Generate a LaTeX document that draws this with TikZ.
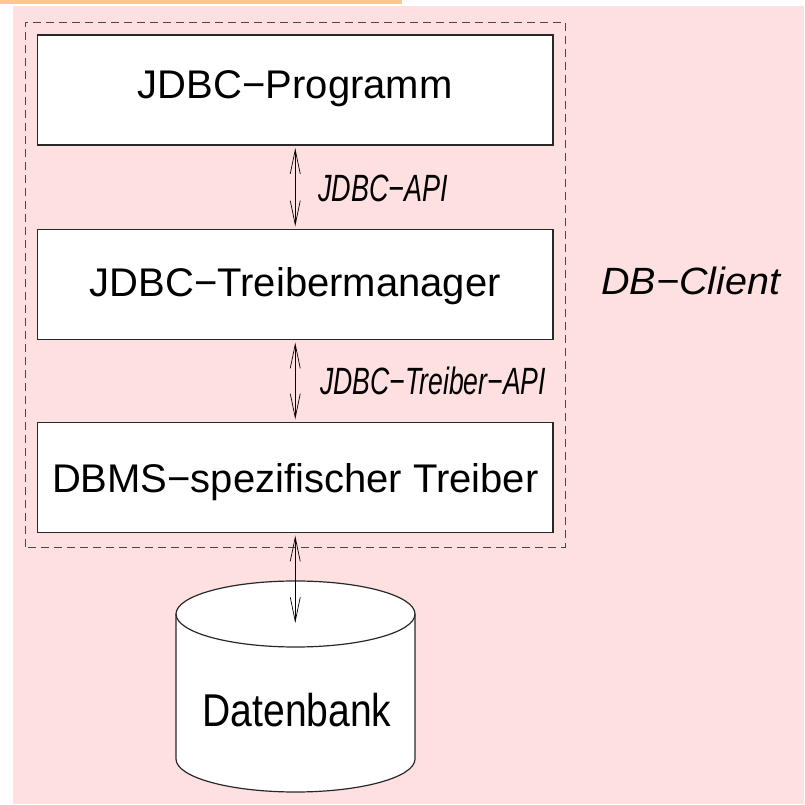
\documentclass[tikz,border=0pt]{standalone}
\usepackage{fontspec}
\setmainfont{Liberation Sans}
\usepackage{graphicx}
\usetikzlibrary{arrows.meta}
\definecolor{bgpink}{RGB}{255,224,224}
\definecolor{barorange}{RGB}{255,200,144}
\definecolor{linegray}{RGB}{40,40,40}
\tikzset{
  layerbox/.style={draw=linegray, line width=1.2pt, fill=white, minimum width=515.5pt,
    minimum height=110pt, inner sep=0pt, font=\fontsize{40}{48}\selectfont},
  apilabel/.style={anchor=base west, inner sep=0pt, font=\fontsize{38}{46}\selectfont\itshape},
  biarrow/.style={line width=0.9pt,
    {Straight Barb[length=24pt,width=10pt,line width=0.7pt]}-{Straight Barb[length=24pt,width=10pt,line width=0.7pt]},
    shorten <=2.5pt, shorten >=2.5pt},
  groupbox/.style={draw=linegray!85, line width=0.8pt, dash pattern=on 8pt off 5pt},
  cylline/.style={draw=linegray, line width=1.2pt},
}
\begin{document}
\begin{tikzpicture}[x=1pt,y=1pt]
\useasboundingbox (0,0) rectangle (804,805);
\fill[white] (0,0) rectangle (804,805);
\fill[barorange] (0,801) rectangle (402,805);
\fill[bgpink] (13,1) rectangle (804,799);
\draw[groupbox] (25,258) rectangle (565,783);
\node[layerbox, text height=30pt, text depth=12pt] (n1) at (295.25,715) {JDBC−Programm};
\node[layerbox, text height=30pt, text depth=6pt] (n2) at (295.25,520.5) {JDBC−Treibermanager};
\node[layerbox, text height=30pt, text depth=0pt] (n3) at (295.25,327.5) {DBMS−spezifischer Treiber};
\draw[biarrow] (n1.south) -- (n2.north);
\draw[biarrow] (n2.south) -- (n3.north);
\node[apilabel] (l1) at (318,603) {\scalebox{0.71}[1]{JDBC−API}};
\node[apilabel] (l2) at (320,410) {\scalebox{0.70}[1]{JDBC−Treiber−API}};
\node[apilabel] (client) at (601,510.7) {\scalebox{1.04}[1]{DB−Client}};
% cylinder
\path[fill=white, cylline] (176,191) -- (176,46)
  arc[start angle=180, end angle=360, x radius=119.5pt, y radius=33pt]
  -- (415,191)
  arc[start angle=0, end angle=180, x radius=119.5pt, y radius=33pt] -- cycle;
\draw[cylline] (176,191) arc[start angle=180, end angle=360, x radius=119.5pt, y radius=33pt];
\node[anchor=base, inner sep=0pt, font=\fontsize{46}{54}\selectfont] (db) at (297,78.3) {\scalebox{0.85}[1]{Datenbank}};
\coordinate (dbin) at (295,182);
\draw[biarrow, shorten >=0pt] (n3.south) -- (n3.south |- dbin);
\end{tikzpicture}
\end{document}
